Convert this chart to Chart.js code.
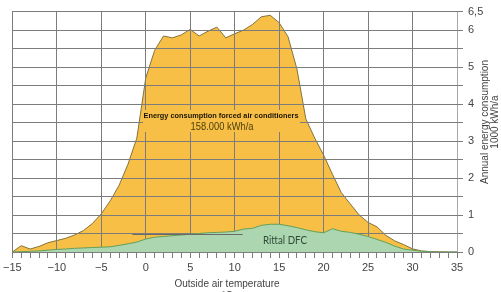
<!DOCTYPE html>
<html>
<head>
<meta charset="utf-8">
<script src="https://cdn.jsdelivr.net/npm/chart.js@4.4.1/dist/chart.umd.min.js"></script>
<style>
html, body { margin: 0; padding: 0; background: #fff; overflow: hidden; }
canvas { display: block; }
</style>
</head>
<body>
<canvas id="energy" width="501" height="292"></canvas>
<script>
// outside air temperature, °C
const temperatures = [-15, -14, -13, -12, -11, -10, -9, -8, -7, -6, -5, -4, -3, -2, -1, 0,
  1, 2, 3, 4, 5, 6, 7, 8, 9, 10, 11, 12, 13, 14, 15, 16, 17, 18, 19, 20,
  21, 22, 23, 24, 25, 26, 27, 28, 29, 30, 31, 32, 33, 34, 35];
// annual energy consumption, 1000 kWh/a
const airConditioners = [0, 0.17, 0.08, 0.15, 0.25, 0.31, 0.37, 0.46, 0.58, 0.77, 1.03, 1.38, 1.8, 2.37, 3.08, 4.7,
  5.45, 5.84, 5.79, 5.87, 6.02, 5.84, 5.97, 6.08, 5.79, 5.9, 6.0, 6.15, 6.36, 6.4, 6.2, 5.82, 4.95, 3.6, 3.08, 2.62,
  2.1, 1.6, 1.3, 1.0, 0.8, 0.68, 0.45, 0.3, 0.2, 0.085, 0.03, 0.01, 0.005, 0, 0];
const rittalDfc = [0, 0.01, 0.02, 0.03, 0.05, 0.07, 0.08, 0.1, 0.11, 0.12, 0.13, 0.14, 0.18, 0.22, 0.27, 0.35,
  0.4, 0.42, 0.44, 0.46, 0.48, 0.5, 0.52, 0.53, 0.54, 0.56, 0.62, 0.64, 0.72, 0.75, 0.75, 0.71, 0.66, 0.6, 0.55, 0.52,
  0.63, 0.56, 0.53, 0.48, 0.42, 0.34, 0.26, 0.16, 0.08, 0.05, 0.02, 0.01, 0, 0, 0];
const yTickValues = [0, 1, 2, 3, 4, 5, 6, 6.5];
const yTickLabels = ['0', '1', '2', '3', '4', '5', '6', '6,5'];

const FONT = "'Liberation Sans', Arial, Helvetica, sans-serif";
const GRID = '#7c7c7c';

function toPoints(values) {
  return temperatures.map((t, i) => ({ x: t, y: values[i] }));
}

// draw text centred on (cx, cy), squeezed to a given width
function fitText(ctx, text, cx, cy, width, font, color) {
  ctx.save();
  ctx.font = font;
  ctx.fillStyle = color;
  ctx.textAlign = 'center';
  ctx.textBaseline = 'middle';
  const w = ctx.measureText(text).width;
  ctx.translate(cx, cy);
  if (width) ctx.scale(width / w, 1);
  ctx.fillText(text, 0, 0);
  ctx.restore();
}

// grid shows through the orange area but not through the green one
const gridOverOrange = {
  id: 'gridOverOrange',
  afterDatasetDraw(chart, args) {
    if (args.index !== 1) return;
    chart.scales.x.drawGrid(chart.chartArea);
    chart.scales.y.drawGrid(chart.chartArea);
  }
};

const labels = {
  id: 'labels',
  afterDraw(chart) {
    const ctx = chart.ctx;
    const x = chart.scales.x, y = chart.scales.y;

    // stray gridline fragment over the green area
    ctx.save();
    ctx.strokeStyle = '#6a6a6a';
    ctx.lineWidth = 1;
    ctx.beginPath();
    ctx.moveTo(x.getPixelForValue(-1.5), Math.round(y.getPixelForValue(0.5)) + 0.5);
    ctx.lineTo(x.getPixelForValue(10.9), Math.round(y.getPixelForValue(0.5)) + 0.5);
    ctx.stroke();

    // box behind the annotation
    ctx.fillStyle = '#f8bf47';
    ctx.fillRect(143, 110, 157, 22);
    ctx.restore();

    fitText(ctx, 'Energy consumption forced air conditioners', 221, 116, 155, 'bold 8px ' + FONT, '#1a1405');
    fitText(ctx, '158.000 kWh/a', 222, 127, 63, '10px ' + FONT, '#4a3f0a');
    fitText(ctx, 'Rittal DFC', 285, 240, 44, '11px Lato, ' + FONT, '#2d4a38');

    fitText(ctx, 'Outside air temperature', 227, 284, null, '10px ' + FONT, '#444');
    fitText(ctx, '°C', 227, 296, null, '10px ' + FONT, '#444');

    ctx.save();
    ctx.translate(490, 122);
    ctx.rotate(-Math.PI / 2);
    fitText(ctx, 'Annual energy consumption', 0, -5, null, '10px ' + FONT, '#444');
    fitText(ctx, '1000 kWh/a', 0, 5, null, '10px ' + FONT, '#444');
    ctx.restore();
  }
};

const ctx = document.getElementById('energy').getContext('2d');
const chart = new Chart(ctx, {
  type: 'line',
  plugins: [gridOverOrange, labels],
  data: {
    datasets: [{
      label: 'Rittal DFC',
      data: toPoints(rittalDfc),
      borderColor: '#62a05a',
      backgroundColor: '#acd6b0',
      borderWidth: 1,
      fill: 'origin',
      pointRadius: 0,
      tension: 0
    }, {
      label: 'Energy consumption forced air conditioners',
      data: toPoints(airConditioners),
      borderColor: '#857238',
      backgroundColor: '#f8bf47',
      borderWidth: 1,
      fill: 'origin',
      pointRadius: 0,
      tension: 0
    }]
  },
  options: {
    responsive: false,
    animation: false,
    devicePixelRatio: 1,
    layout: { padding: { left: 7, top: 7, right: 0, bottom: 0 } },
    plugins: {
      legend: { display: false },
      tooltip: { enabled: false }
    },
    scales: {
      x: {
        type: 'linear',
        min: -15,
        max: 35,
        border: { display: false },
        afterFit(scale) { scale.height = 40; },
        grid: {
          color: (c) => c.tick && c.tick.value % 5 === 0 ? (c.tick.value === 35 ? '#a8a8a8' : GRID) : 'rgba(0,0,0,0)',
          tickColor: GRID,
          tickLength: 6,
          lineWidth: 1
        },
        ticks: {
          stepSize: 1,
          autoSkip: false,
          maxRotation: 0,
          padding: 3,
          color: '#444',
          font: { family: FONT, size: 11 },
          callback: (v) => v % 5 === 0 ? (v < 0 ? '\u2212' + Math.abs(v) : String(v)) : ''
        }
      },
      y: {
        position: 'right',
        min: 0,
        max: 6.5,
        border: { display: false },
        afterFit(scale) { scale.width = 44; },
        grid: {
          color: GRID,
          tickColor: GRID,
          tickLength: 6,
          lineWidth: 1
        },
        ticks: {
          stepSize: 0.5,
          autoSkip: false,
          padding: 5,
          color: '#444',
          font: { family: FONT, size: 11 },
          callback: (v) => {
            const i = yTickValues.indexOf(v);
            return i >= 0 ? yTickLabels[i] : '';
          }
        }
      }
    }
  }
});
</script>
</body>
</html>
